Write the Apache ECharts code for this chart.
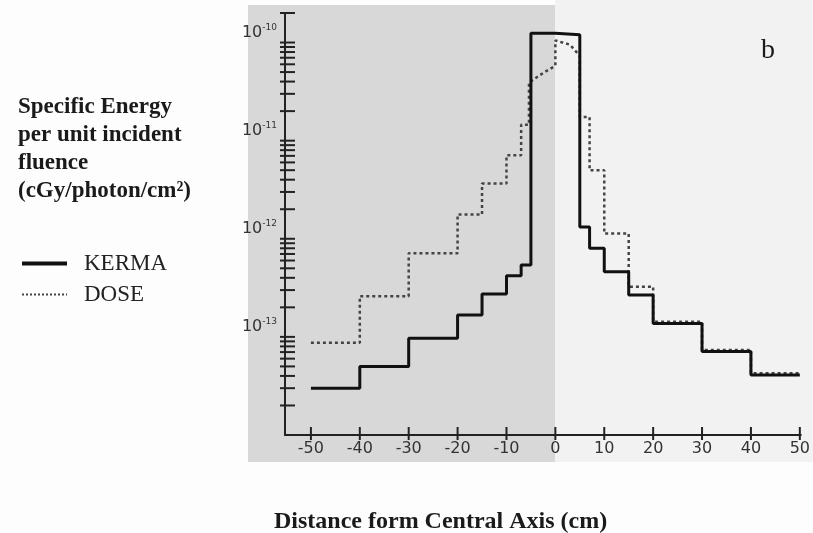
<!DOCTYPE html>
<html>
<head>
<meta charset="utf-8">
<script src="https://cdn.jsdelivr.net/npm/echarts@6/dist/echarts.min.js"></script>
<style>
html,body{margin:0;padding:0;background:#fdfdfd;}
#c{width:813px;height:533px;}
</style>
</head>
<body>
<div id="c"></div>
<script>
// ---- data ----
const xTickValues = [-50, -40, -30, -20, -10, 0, 10, 20, 30, 40, 50];
const yLabelValues = [1e-13, 1e-12, 1e-11, 1e-10];
const yMinorMantissas = [1, 2, 3, 4, 5, 6, 7, 8, 9];
const yDecades = [-14, -13, -12, -11];

// KERMA histogram: bin edges (cm) and values (cGy/photon/cm^2)
const kermaEdges = [-50, -40, -30, -20, -15, -10, -7, -5, 0, 5, 7, 10, 15, 20, 30, 40, 50];
const kermaValues = [3.0e-14, 5.0e-14, 9.7e-14, 1.67e-13, 2.73e-13, 4.2e-13, 5.4e-13,
  1.24e-10, 1.2e-10, 1.32e-12, 8.0e-13, 4.6e-13, 2.67e-13, 1.37e-13, 7.1e-14, 4.1e-14];

// DOSE curve vertices (cm, value)
const doseX = [-50, -40, -40, -30, -30, -20, -20, -15, -15, -10, -10, -7, -7, -5.4, -5.4, -2.5, 0, 0, 3, 5, 5, 7, 7, 10, 10, 15, 15, 20, 20, 30, 30, 40, 40, 50];
const doseY = [8.7e-14, 8.7e-14, 2.6e-13, 2.6e-13, 7.1e-13, 7.1e-13, 1.77e-12, 1.77e-12, 3.66e-12, 3.66e-12,
  7.1e-12, 7.1e-12, 1.45e-11, 1.45e-11, 3.9e-11, 4.9e-11, 5.8e-11, 1.05e-10, 9.5e-11, 7.3e-11,
  1.74e-11, 1.74e-11, 5.0e-12, 5.0e-12, 1.13e-12, 1.13e-12, 3.24e-13, 3.24e-13, 1.43e-13, 1.43e-13,
  7.36e-14, 7.36e-14, 4.27e-14, 4.27e-14];

const X_MIN = -55.3, X_MAX = 50.2;
const Y_MIN = 1e-14, Y_MAX = 2e-10;

// ---- build ----
const kermaPts = [];
for (let i = 0; i < kermaValues.length; i++) {
  kermaPts.push([kermaEdges[i], kermaValues[i]]);
  kermaPts.push([kermaEdges[i + 1], kermaValues[i]]);
}
const dosePts = doseX.map((x, i) => [x, doseY[i]]);

const yTicks = [];
yDecades.forEach(d => yMinorMantissas.forEach(m => {
  const v = m * Math.pow(10, d);
  if (!(d === -14 && m === 1)) yTicks.push(v);
}));
yTicks.push(1e-10, 2e-10);

const serif = '"Liberation Serif","Times New Roman",serif';
const sans = '"DejaVu Sans","Liberation Sans",sans-serif';

const chart = echarts.init(document.getElementById('c'), null, {renderer: 'canvas'});
const option = {
  animation: false,
  backgroundColor: 'transparent',
  title: [
    {text: 'Specific Energy\nper unit incident\nfluence\n(cGy/photon/cm²)', left: 13, top: 88,
     textStyle: {fontFamily: serif, fontWeight: 'bold', fontSize: 23, lineHeight: 28, color: '#1a1a1a'}},
    {text: 'Distance form Central Axis (cm)', left: 269, top: 505,
     textStyle: {fontFamily: serif, fontWeight: 'bold', fontSize: 24, color: '#1a1a1a'}},
    {text: 'b', left: 756, top: 32,
     textStyle: {fontFamily: serif, fontWeight: 'normal', fontSize: 28, color: '#1a1a1a'}}
  ],
  legend: {
    orient: 'vertical', left: 15, top: 247, itemWidth: 45, itemHeight: 12, itemGap: 8,
    data: [
      {name: 'KERMA', lineStyle: {width: 4, color: '#111'}},
      {name: 'DOSE', lineStyle: {width: 2, color: '#444', type: [2, 2]}}
    ],
    itemStyle: {color: 'transparent', borderWidth: 0, opacity: 0},
    textStyle: {fontFamily: serif, fontSize: 23, color: '#222', padding: [0, 0, 0, 12]}
  },
  grid: {left: 285, right: 6, top: 13, bottom: 98, containLabel: false},
  xAxis: {
    type: 'value', min: X_MIN, max: X_MAX,
    axisLine: {onZero: false, lineStyle: {color: '#222', width: 2}},
    axisTick: {show: false},
    splitLine: {show: false},
    axisLabel: {customValues: xTickValues, color: '#333', fontFamily: sans, fontSize: 16, margin: 6}
  },
  yAxis: {
    type: 'log', logBase: 10, min: Y_MIN, max: Y_MAX,
    axisLine: {show: true, onZero: false, lineStyle: {color: '#222', width: 2}},
    axisTick: {show: false},
    splitLine: {show: false},
    minorTick: {show: false},
    axisLabel: {
      customValues: yLabelValues, margin: 8, padding: [0, 0, 20, 0],
      formatter: v => '{b|10}{s|' + Math.round(Math.log10(v)) + '}',
      rich: {
        b: {fontFamily: sans, fontSize: 16, color: '#333'},
        s: {fontFamily: sans, fontSize: 9, color: '#333', padding: [0, 0, 10, 0]}
      }
    }
  },
  series: [
    {name: 'KERMA', type: 'line', data: kermaPts, symbol: 'none', z: 4,
     lineStyle: {color: '#111', width: 3}, itemStyle: {color: '#111'}},
    {name: 'DOSE', type: 'line', data: dosePts, symbol: 'none', z: 3,
     lineStyle: {color: '#444', width: 2.5, type: [3, 3]}, itemStyle: {color: '#444'}},
    {name: 'yticks', type: 'custom', silent: true, z: 5,
     data: yTicks.map(v => [X_MIN, v]),
     renderItem: (params, api) => {
       const p = api.coord([api.value(0), api.value(1)]);
       return {type: 'line', shape: {x1: p[0] - 5, y1: p[1], x2: p[0] + 10, y2: p[1]},
               style: {stroke: '#222', lineWidth: 2}};
     }},
    {name: 'xticks', type: 'custom', silent: true, z: 5,
     data: xTickValues.map(v => [v, Y_MIN]),
     renderItem: (params, api) => {
       const p = api.coord([api.value(0), api.value(1)]);
       return {type: 'line', shape: {x1: p[0], y1: p[1] - 8, x2: p[0], y2: p[1] + 5},
               style: {stroke: '#222', lineWidth: 2}};
     }}
  ]
};
chart.setOption(option);

const px0 = chart.convertToPixel({gridIndex: 0}, [0, 1e-12])[0];
chart.setOption({
  graphic: [
    {type: 'rect', z: -10, silent: true, shape: {x: 248, y: 5, width: px0 - 248, height: 457},
     style: {fill: '#d8d8d8'}},
    {type: 'rect', z: -10, silent: true, shape: {x: px0, y: 0, width: 813 - px0, height: 462},
     style: {fill: '#f2f2f2'}}
  ]
});
</script>
</body>
</html>
